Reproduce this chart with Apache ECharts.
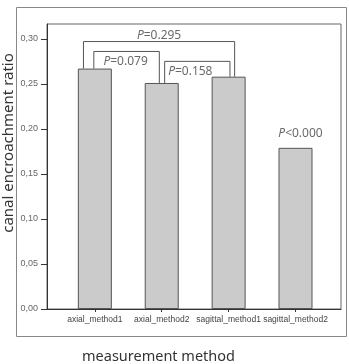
<!DOCTYPE html>
<html>
<head>
<meta charset="utf-8">
<script src="https://cdn.jsdelivr.net/npm/echarts@6/dist/echarts.min.js"></script>
<style>
  html, body { margin: 0; padding: 0; background: #fff; }
  #chart { width: 349px; height: 364px; }
</style>
</head>
<body>
<div id="chart"></div>
<script>
// 数据
const categories = ['axial_method1', 'axial_method2', 'sagittal_method1', 'sagittal_method2']
const ratioValues = [0.267, 0.251, 0.258, 0.179]
const yTicks = [0, 0.05, 0.1, 0.15, 0.2, 0.25, 0.3]

// 比较括号 (from -> to, 1 起始)
const bracketFrom = [1, 1, 2]
const bracketTo = [3, 2, 3]
const bracketLevel = [0.297, 0.286, 0.275]
const bracketText = ['=0.295', '=0.079', '=0.158']
const singleText = '<0.000'

// 括号腿的横向偏移 (布局用)
const legOffsets = [[-0.17, 0.09], [-0.015, -0.036], [0.044, 0.02]]
const labelInside = [false, true, true]
const labelShift = [[0, 0], [-1, 0], [-7, 0]]

const chart = echarts.init(document.getElementById('chart'))

const barData = ratioValues.map((v, i) => [i + 1, v])

const bracketSeries = bracketFrom.map((from, i) => {
  const to = bracketTo[i]
  const x1 = from + legOffsets[i][0]
  const x2 = to + legOffsets[i][1]
  return {
    type: 'line',
    symbol: 'none',
    silent: true,
    animation: false,
    clip: false,
    lineStyle: { color: '#555', width: 1 },
    data: [
      [x1, ratioValues[from - 1]],
      [x1, bracketLevel[i]],
      [x2, bracketLevel[i]],
      [x2, ratioValues[to - 1]]
    ]
  }
})

const pRich = {
  i: { fontStyle: 'italic', fontFamily: 'Noto Sans', fontSize: 12, color: '#444' },
  n: { fontFamily: 'Noto Sans', fontSize: 12, color: '#444' }
}

const labelPoints = bracketFrom.map((from, i) => {
  const x1 = from + legOffsets[i][0]
  const x2 = bracketTo[i] + legOffsets[i][1]
  return {
    value: [(x1 + x2) / 2, bracketLevel[i]],
    label: {
      show: true,
      position: labelInside[i] ? 'bottom' : 'top',
      distance: labelInside[i] ? 4 : 0,
      offset: labelShift[i],
      formatter: '{i|P}{n|' + bracketText[i] + '}',
      rich: pRich
    }
  }
})
labelPoints.push({
  value: [4, ratioValues[3]],
  label: {
    show: true,
    position: 'top',
    distance: 8,
    offset: [5, 0],
    formatter: '{i|P}{n|' + singleText + '}',
    rich: pRich
  }
})

const option = {
  animation: false,
  grid: {
    left: 47,
    right: 8,
    top: 24,
    bottom: 55,
    show: true,
    borderColor: '#666',
    borderWidth: 1
  },
  xAxis: {
    type: 'value',
    min: 0.285,
    max: 4.68,
    splitLine: { show: false },
    axisLine: { show: true, onZero: false, lineStyle: { color: '#333', width: 1 } },
    axisTick: {
      show: true,
      length: 3,
      customValues: [1, 2, 3, 4],
      lineStyle: { color: '#333' }
    },
    axisLabel: {
      customValues: [1, 2, 3, 4],
      formatter: (v) => categories[Math.round(v) - 1],
      fontSize: 8.5,
      fontFamily: 'Liberation Sans',
      color: '#444',
      margin: 6
    }
  },
  yAxis: {
    type: 'value',
    min: 0,
    max: 0.3165,
    splitLine: { show: false },
    axisLine: { show: true, lineStyle: { color: '#333', width: 1 } },
    axisTick: {
      show: true,
      length: 6,
      customValues: yTicks,
      lineStyle: { color: '#333' }
    },
    axisLabel: {
      customValues: yTicks,
      formatter: (v) => v.toFixed(2).replace('.', ','),
      fontSize: 9,
      fontFamily: 'Liberation Sans',
      color: '#666',
      margin: 9
    }
  },
  graphic: [
    {
      type: 'rect',
      silent: true,
      shape: { x: 16.5, y: 7.5, width: 330, height: 329 },
      style: { fill: 'none', stroke: '#888', lineWidth: 1 }
    },
    {
      type: 'text',
      silent: true,
      x: 8.5,
      y: 143,
      rotation: Math.PI / 2,
      style: {
        text: 'canal encroachment ratio',
        fontFamily: 'Noto Sans',
        fontSize: 15,
        fill: '#333',
        align: 'center',
        verticalAlign: 'middle'
      }
    },
    {
      type: 'text',
      silent: true,
      x: 158.5,
      y: 357,
      style: {
        text: 'measurement method',
        fontFamily: 'Noto Sans',
        fontSize: 14.5,
        fill: '#333',
        align: 'center',
        verticalAlign: 'middle'
      }
    }
  ],
  series: [
    {
      type: 'bar',
      barWidth: 34,
      silent: true,
      itemStyle: { color: '#cbcbcb', borderColor: '#555', borderWidth: 1 },
      data: barData
    },
    ...bracketSeries,
    {
      type: 'scatter',
      symbolSize: 0,
      silent: true,
      clip: false,
      data: labelPoints
    }
  ]
}

chart.setOption(option)
</script>
</body>
</html>
